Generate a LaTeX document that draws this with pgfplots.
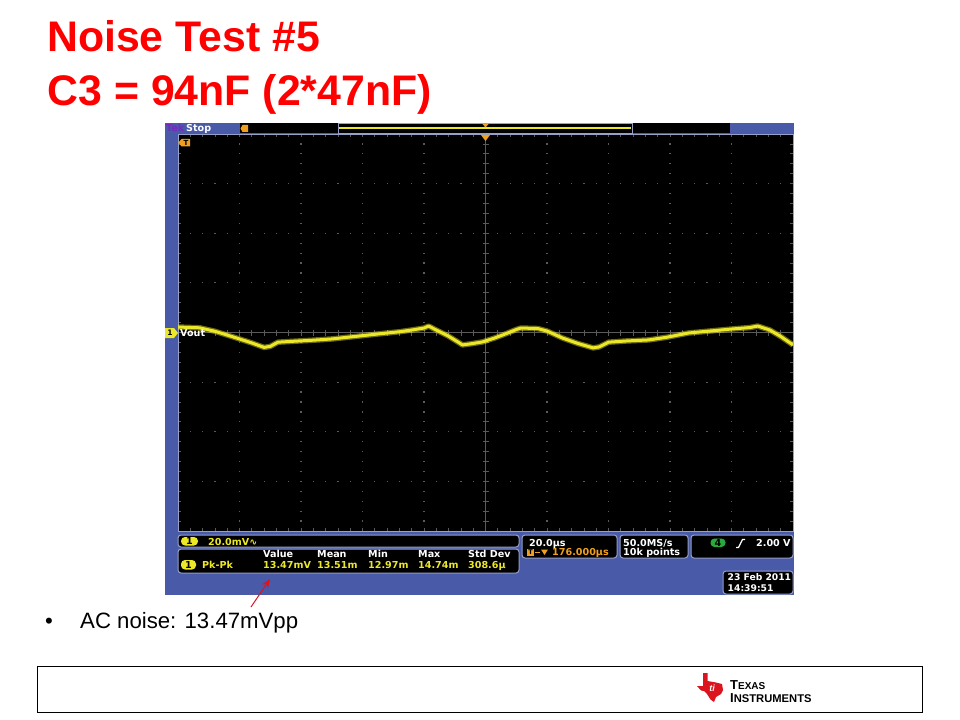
\documentclass[border=0pt]{standalone}
\usepackage{pgfplots}
\pgfplotsset{compat=1.18}
\usepackage{pgfplotstable}
\usepackage{fontspec}
\setmainfont{Liberation Sans}
\newfontfamily\scopefont{DejaVu Sans}
\usetikzlibrary{arrows.meta}
\definecolor{titlered}{RGB}{255,0,0}
\definecolor{scopeblue}{RGB}{72,90,168}
\definecolor{frame}{RGB}{150,160,200}
\definecolor{chyellow}{RGB}{236,232,40}
\definecolor{tekorange}{RGB}{240,160,30}
\definecolor{tekpurple}{RGB}{120,40,190}
\definecolor{gridgray}{RGB}{90,90,90}
\definecolor{tigreen}{RGB}{40,170,60}
\definecolor{tired}{RGB}{220,20,30}
\newcommand\tek{\scopefont\bfseries\fontsize{9.6bp}{11bp}\selectfont}

% Ch1 trace: time (us) vs voltage (mV), 20 us/div, 20 mV/div
\pgfplotstableread{
t v
-100 2.2
-93 1.9
-88 0.5
-82 -1.8
-76 -4.2
-72 -6.0
-70 -5.6
-67.5 -3.9
-62 -3.5
-56 -3.1
-50 -2.6
-44 -1.8
-38 -1.0
-32 -0.2
-28 0.3
-24 1.0
-20 1.8
-18.5 2.6
-16 1.0
-12 -1.5
-9 -3.8
-7.5 -5.0
-5 -4.6
-1 -3.8
3 -2.2
6 -0.8
10 1.2
11.5 1.8
17 1.6
20 0.6
25 -2.2
30 -4.4
35 -6.2
37 -5.8
40 -3.9
46 -3.4
53 -3.0
59 -1.9
66 -0.2
73 0.6
80 1.4
86 2.0
88.5 2.6
92.5 1.0
96 -1.6
100 -5.0
}\trace

\begin{document}
\begin{tikzpicture}[x=1bp,y=-1bp]
\useasboundingbox (0,0) rectangle (960,720);
\fill[white] (0,0) rectangle (960,720);

% Title
\node[anchor=base west, inner sep=0, text=titlered, font=\bfseries\fontsize{42.8bp}{46bp}\selectfont] at (47,52) {Noise Test \#5};
\node[anchor=base west, inner sep=0, text=titlered, font=\bfseries\fontsize{42.8bp}{46bp}\selectfont] at (47.5,106) {C3 = 94nF (2*47nF)};

% Scope background
\fill[scopeblue] (165,123) rectangle (794,595);
% top bar
\fill[black] (240,123) rectangle (730,133.5);
\draw[frame, line width=0.8bp] (338,123) rectangle (632,133.5);
\draw[chyellow, line width=1.2bp] (339,128) -- (631,128);
\fill[tekorange] (240.5,128.5) -- (242.5,125) -- (248,125) -- (248,132) -- (242.5,132) -- cycle;
\fill[tekorange] (482.5,124) -- (488.5,124) -- (485.5,127.5) -- cycle;
\node[anchor=base west, inner sep=0, text=tekpurple, font=\tek] at (166,132) {Tek};
\node[anchor=base west, inner sep=0, text=white, font=\tek] at (186,132) {Stop};

% Graticule background
\fill[black] (178,134) rectangle (793,531);
% grid dots
\foreach \k in {1,...,9}{
  \foreach \j in {1,...,39}{
    \fill[gridgray] ({178+\k*61.5-0.6},{134+\j*9.925-0.6}) rectangle +(1.2,1.2);
  }
}
\foreach \k in {1,...,7}{
  \foreach \j in {1,...,49}{
    \fill[gridgray] ({178+\j*12.3-0.6},{134+\k*49.625-0.6}) rectangle +(1.2,1.2);
  }
}
% center cross ticks
\draw[gridgray, line width=0.6bp] (485.5,134) -- (485.5,531);
\draw[gridgray, line width=0.6bp] (178,332.5) -- (793,332.5);
\foreach \j in {1,...,39}{
  \draw[gridgray, line width=0.8bp] (482.5,{134+\j*9.925}) -- (488.5,{134+\j*9.925});
}
\foreach \j in {1,...,49}{
  \draw[gridgray, line width=0.8bp] ({178+\j*12.3},329.5) -- ({178+\j*12.3},335.5);
}
% edge ticks
\foreach \j in {1,...,49}{
  \draw[gridgray, line width=0.8bp] ({178+\j*12.3},134) -- ({178+\j*12.3},137);
  \draw[gridgray, line width=0.8bp] ({178+\j*12.3},531) -- ({178+\j*12.3},528);
}
\foreach \j in {1,...,39}{
  \draw[gridgray, line width=0.8bp] (178,{134+\j*9.925}) -- (181,{134+\j*9.925});
  \draw[gridgray, line width=0.8bp] (793,{134+\j*9.925}) -- (790,{134+\j*9.925});
}

\begin{axis}[at={(178bp,-531bp)}, anchor=south west, scale only axis,
  width=615bp, height=397bp,
  xmin=-100, xmax=100, ymin=-80, ymax=80,
  ticks=none, axis line style={draw=frame, line width=1bp}, clip=true]
\addplot[chyellow, opacity=0.45, line width=5.5bp, line join=round] table[x=t,y=v] {\trace};
\addplot[chyellow, line width=3bp, line join=round] table[x=t,y=v] {\trace};
\end{axis}

% trigger markers
\fill[tekorange] (481,135) -- (490,135) -- (485.5,141) -- cycle;
\fill[tekorange] (178.5,142.5) -- (181.5,139) -- (190,139) -- (190,146.5) -- (181.5,146.5) -- cycle;
\node[inner sep=0, text=black, font=\scopefont\bfseries\fontsize{7bp}{8bp}\selectfont] at (186,142.8) {T};
% ch1 marker
\fill[chyellow] (165,328) -- (174,328) -- (178,333) -- (174,338) -- (165,338) -- cycle;
\node[inner sep=0, text=black, font=\scopefont\bfseries\fontsize{7.5bp}{8bp}\selectfont] at (170,333) {1};
\node[anchor=base west, inner sep=0, text=white, font=\tek] at (180,336.5) {Vout};

% Bottom panels
\tikzset{panel/.style={fill=black, draw=frame, rounded corners=3bp, line width=1bp}}
\filldraw[panel] (178,535) rectangle (519,547);
\filldraw[panel] (178,549) rectangle (519,573);
\filldraw[panel] (522,535) rectangle (617,558);
\filldraw[panel] (620,535) rectangle (688,558);
\filldraw[panel] (691,535) rectangle (793,558);
\filldraw[panel] (723,571) rectangle (793,594);

% Panel A
\fill[chyellow, rounded corners=4bp] (181,537) rectangle (198,545.5);
\node[inner sep=0, text=black, font=\tek] at (189.5,541.3) {1};
\node[anchor=base west, inner sep=0, text=chyellow, font=\tek] at (208,545) {20.0mV∿};
% Panel B
\fill[chyellow, rounded corners=4bp] (181,560) rectangle (196,569.5);
\node[inner sep=0, text=black, font=\tek] at (188.5,564.8) {1};
\node[anchor=base west, inner sep=0, text=white, font=\tek] at (263,557.5) {Value};
\node[anchor=base west, inner sep=0, text=white, font=\tek] at (317,557.5) {Mean};
\node[anchor=base west, inner sep=0, text=white, font=\tek] at (368,557.5) {Min};
\node[anchor=base west, inner sep=0, text=white, font=\tek] at (418,557.5) {Max};
\node[anchor=base west, inner sep=0, text=white, font=\tek] at (468,557.5) {Std Dev};
\node[anchor=base west, inner sep=0, text=chyellow, font=\tek] at (202,568.5) {Pk-Pk};
\node[anchor=base west, inner sep=0, text=chyellow, font=\tek] at (263,568.5) {13.47mV};
\node[anchor=base west, inner sep=0, text=chyellow, font=\tek] at (317,568.5) {13.51m};
\node[anchor=base west, inner sep=0, text=chyellow, font=\tek] at (368,568.5) {12.97m};
\node[anchor=base west, inner sep=0, text=chyellow, font=\tek] at (418,568.5) {14.74m};
\node[anchor=base west, inner sep=0, text=chyellow, font=\tek] at (468,568.5) {308.6µ};
% Panel C
\node[anchor=base west, inner sep=0, text=white, font=\tek] at (529,546.5) {20.0µs};
\fill[tekorange] (527,548.5) rectangle (534,556);
\node[inner sep=0, text=black, font=\scopefont\bfseries\fontsize{6.5bp}{7bp}\selectfont] at (530.5,552.3) {T};
\draw[tekorange, line width=0.9bp] (534.5,552.3) -- (540,552.3);
\fill[tekorange] (541,549.5) -- (548,549.5) -- (544.5,555) -- cycle;
\node[anchor=base west, inner sep=0, text=tekorange, font=\tek] at (552,555.5) {176.000µs};
% Panel D
\node[anchor=base west, inner sep=0, text=white, font=\tek] at (623,546.5) {50.0MS/s};
\node[anchor=base west, inner sep=0, text=white, font=\tek] at (623,555.5) {10k points};
% Panel E
\fill[tigreen, rounded corners=4bp] (710.5,538.5) rectangle (725.5,547);
\node[inner sep=0, text=black, font=\tek] at (718,542.8) {4};
\draw[white, line width=1.3bp] (736,547.5) -- (738.5,547.5) -- (742.5,539.5) -- (745,539.5);
\node[anchor=base west, inner sep=0, text=white, font=\tek] at (756,546.5) {2.00 V};
% Panel F
\node[anchor=base west, inner sep=0, text=white, font=\scopefont\bfseries\fontsize{9.2bp}{11bp}\selectfont] at (727.5,580.5) {23 Feb\,\,2011};
\node[anchor=base west, inner sep=0, text=white, font=\scopefont\bfseries\fontsize{9.2bp}{11bp}\selectfont] at (727.5,591.5) {14:39:51};

% red arrow
\draw[tired, line width=1bp, -{Stealth[length=9bp,width=7bp]}] (251,607) -- (270,579);

% bullet
\node[anchor=base west, inner sep=0, font=\fontsize{22.2bp}{24bp}\selectfont] at (45,628) {•};
\node[anchor=base west, inner sep=0, font=\fontsize{22.2bp}{24bp}\selectfont] at (80,628) {AC noise: 13.47mVpp};

% footer
\draw[black, line width=0.9bp] (37,666) rectangle (922,712);
\fill[tired] (703,673) -- (707.5,673) -- (707.5,681) -- (716,682.5) -- (722,684) -- (723,690) -- (721,694) -- (716,697) -- (714,702) -- (710.5,699.5) -- (707,694) -- (704,691) -- (701,690.5) -- (697,686) -- (703,686) -- cycle;
\node[inner sep=0, text=white, font=\bfseries\itshape\fontsize{9bp}{9bp}\selectfont] at (712,688) {ti};
\node[anchor=base west, inner sep=0, font=\bfseries] at (730,689.5) {{\fontsize{13bp}{13bp}\selectfont T}{\fontsize{10bp}{10bp}\selectfont EXAS}};
\node[anchor=base west, inner sep=0, font=\bfseries] at (730,702) {{\fontsize{13bp}{13bp}\selectfont I}{\fontsize{11.2bp}{11bp}\selectfont NSTRUMENTS}};
\end{tikzpicture}
\end{document}
